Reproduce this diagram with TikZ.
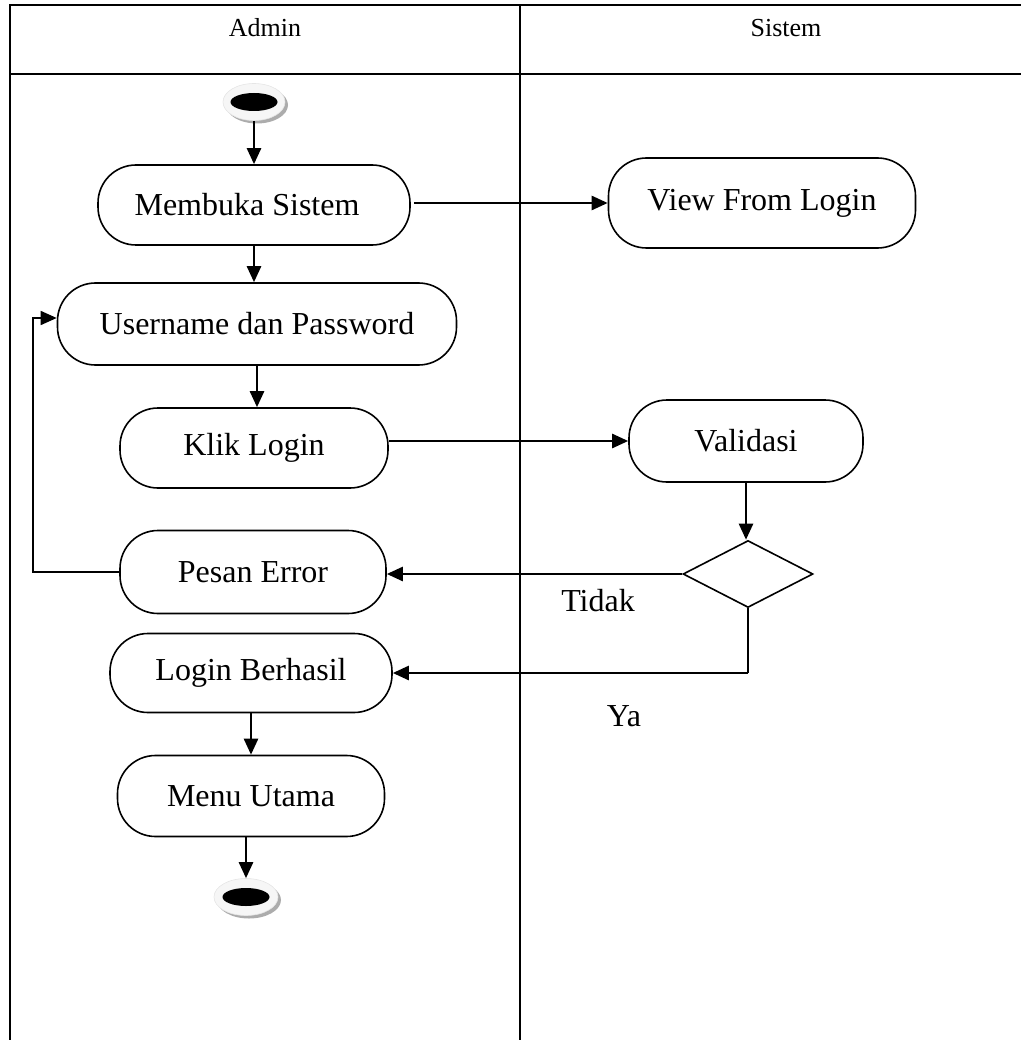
\documentclass[tikz,border=0pt]{standalone}
\usepackage{fontspec}
\setmainfont{Liberation Serif}
\usetikzlibrary{shapes.geometric,arrows.meta,shadows}
\begin{document}
\begin{tikzpicture}[x=1pt,y=-1pt,
  act/.style={draw,line width=1.6pt,rounded corners=38pt,inner sep=0pt,
    font=\fontsize{32}{38}\selectfont},
  flow/.style={line width=2.5pt,-{Triangle[length=16pt,width=14pt]}},
  thinflow/.style={line width=1.5pt,-{Triangle[length=16pt,width=14pt]}},
  lane/.style={line width=2.6pt},
  lanehead/.style={font=\fontsize{26}{30}\selectfont},
  lbl/.style={font=\fontsize{32}{38}\selectfont},
  terminal/.style={ellipse,minimum width=#1,minimum height=37pt,inner sep=0pt,
    fill=gray!7,draw=gray!20,line width=0.6pt,
    drop shadow={shadow xshift=3pt,shadow yshift=-3pt,fill=gray!65,opacity=1},
    path picture={\fill[black] (path picture bounding box.center) ellipse (23.5pt and 9pt);}},
]
\useasboundingbox (0,0) rectangle (1021,1040);

% swimlane frame
\draw[lane] (10,1040) -- (10,5) -- (1021,5);
\draw[lane] (10,74) -- (1021,74);
\draw[lane] (520,5) -- (520,1040);
\node[lanehead] (hadmin) at (265,28) {Admin};
\node[lanehead] (hsistem) at (786,28) {Sistem};

% activities
\node[terminal=62pt] (start) at (254,102) {};
\node[act,minimum width=312pt,minimum height=80pt] (ms) at (254,205) {\hspace*{-14pt}Membuka Sistem};
\node[act,minimum width=307pt,minimum height=90pt] (vfl) at (762,203) {View From Login};
\node[act,minimum width=399pt,minimum height=82pt] (up) at (257,324) {Username dan Password};
\node[act,minimum width=268pt,minimum height=80pt] (kl) at (254,448) {Klik Login};
\node[act,minimum width=234pt,minimum height=82pt] (val) at (746,441) {Validasi};
\node[draw,diamond,line width=1.6pt,inner sep=0pt,aspect=1.94,
      minimum width=130pt,minimum height=67pt] (dia) at (748,574) {};
\node[act,minimum width=266pt,minimum height=83pt] (pe) at (253,572) {Pesan Error};
\node[act,minimum width=282pt,minimum height=79pt] (lb) at (251,673) {Login Berhasil};
\node[act,minimum width=267pt,minimum height=81pt] (mu) at (251,796) {Menu Utama};
\node[terminal=64pt] (end) at (246,897) {};

\node[lbl] (tidak) at (598,601) {Tidak};
\node[lbl] (ya) at (624,716) {Ya};

% control flow
\draw[flow] (start) -- (ms);
\draw[flow,shorten <=3pt] (ms.east |- vfl) -- (vfl);
\draw[flow] (ms) -- (ms |- up.north);
\draw[flow] (up) -- (up |- kl.north);
\draw[flow] (kl.east |- val) -- (val);
\draw[flow] (val) -- (val |- dia.north);
\draw[flow] (dia.west) -- (pe.east |- dia.west);
\coordinate (bend) at (33,318);
\draw[thinflow] (pe.west) -| (bend) -- (bend -| up.west);
\coordinate (yaturn) at (dia.south |- lb.east);
\draw[line width=1.5pt] (dia.south) -- (yaturn);
\draw[flow] (yaturn) -- (lb.east);
\draw[flow] (lb) -- (lb |- mu.north);
\draw[flow] (end |- mu.south) -- (end);
\end{tikzpicture}
\end{document}
